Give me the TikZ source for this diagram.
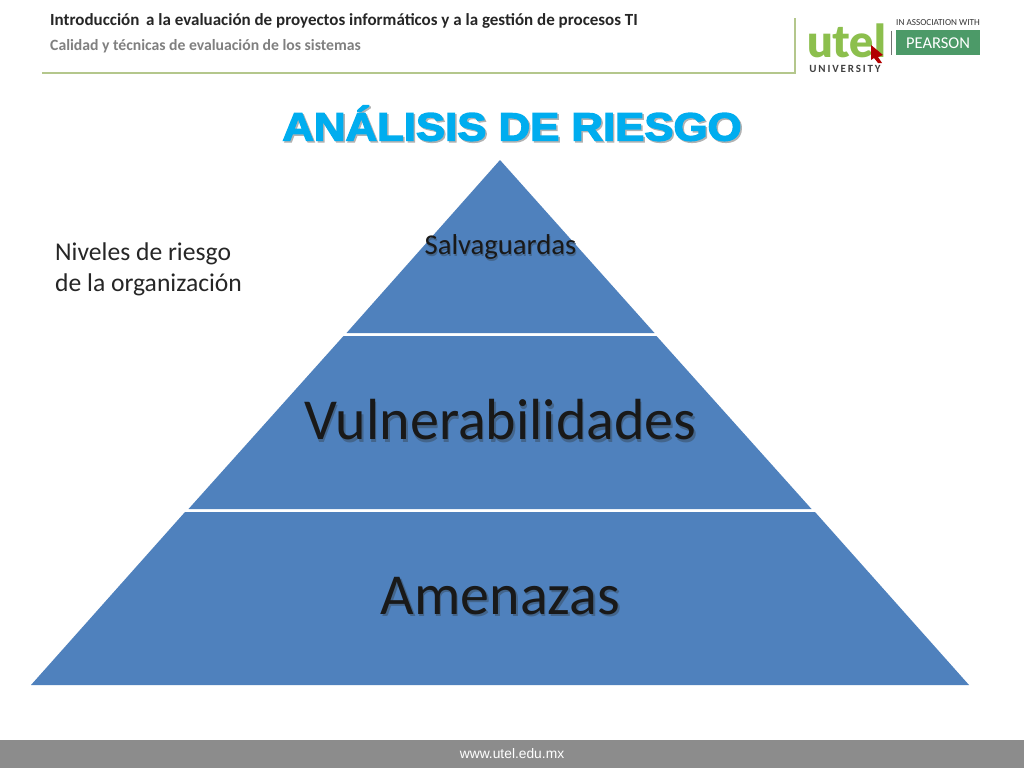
\documentclass[tikz,border=0pt]{standalone}
\usepackage{fontspec}
\setmainfont{Carlito}
\newfontfamily\titlefont[FakeBold=3.4,FakeStretch=1.11]{Liberation Sans Bold}
\newfontfamily\arialfont{Liberation Sans}
\newfontfamily\logofont{Lato Black}
\definecolor{pyr}{HTML}{4F81BD}
\definecolor{hdrline}{HTML}{B4C78C}
\definecolor{titleblue}{HTML}{00ADEF}
\definecolor{utelgreen}{HTML}{8CBF4D}
\definecolor{pearsongreen}{HTML}{4C9A68}
\definecolor{footgray}{HTML}{8C8C8C}
\definecolor{softshadow}{HTML}{43658C}
\newcommand{\shadowed}[4]{\makebox[0pt][l]{\kern#1pt\raisebox{-#2pt}{\color{#3}#4}}#4}
\tikzset{
  band/.style={fill=pyr,draw=none},
  lbl/.style={inner sep=0pt,anchor=center,text=black!90},
  plain/.style={inner sep=0pt,anchor=west},
}
\begin{document}
\begin{tikzpicture}[x=1pt,y=-1pt]
\useasboundingbox (0,0) rectangle (1024,768);
\fill[white] (0,0) rectangle (1024,768);
% header
\node[plain,font=\bfseries\fontsize{17}{18}\selectfont,text=black!85] (h1) at (50,21) {Introducción\, a la evaluación de proyectos informáticos y a la gestión de procesos TI};
\node[plain,font=\bfseries\fontsize{15.7}{18}\selectfont,text=black!50] (h2) at (50,46) {Calidad y técnicas de evaluación de los sistemas};
\draw[hdrline,line width=1.3pt] (42,73) -- (795,73) -- (795,18);
% logo
\node[inner sep=0pt,anchor=base,font=\logofont\fontsize{45}{47}\selectfont,text=utelgreen] (utel) at (846.5,57) {utel};
\node[inner sep=0pt,anchor=center,font=\bfseries\fontsize{11}{12}\selectfont,text=black!75] (univ) at (845,69) {U\,N\,I\,V\,E\,R\,S\,I\,T\,Y};
\fill[red!70!black] (871,45) -- (883,55) -- (878,57) -- (882,63) -- (878,63) -- (874,58) -- (871,60) -- cycle;
\draw[black!55,line width=0.8pt] (891,31) -- (891,55);
\node[inner sep=0pt,anchor=center,font=\fontsize{9.2}{10}\selectfont,text=black!80] (assoc) at (938,23) {IN ASSOCIATION WITH};
\node[fill=pearsongreen,minimum width=84pt,minimum height=25pt,inner sep=0pt,text=white,font=\fontsize{16.5}{17}\selectfont] (pearson) at (938,43) {PEARSON};
% title
\node[inner sep=0pt,font=\titlefont\fontsize{39.4}{42}\selectfont,text=titleblue] (title) at (512,124) {\shadowed{1.5}{1.5}{black!30}{ANÁLISIS DE RIESGO}};
% pyramid
\fill[band] (500,160) -- (654.5,333) -- (346.5,333) -- cycle;
\fill[band] (343.5,336) -- (656.5,336) -- (811.5,509) -- (188.5,509) -- cycle;
\fill[band] (185,512) -- (815,512) -- (969,685) -- (31,685) -- cycle;
\node[lbl,font=\fontsize{28.7}{30}\selectfont] (salv) at (500.5,248) {\shadowed{1}{1.5}{softshadow}{Salvaguardas}};
\node[lbl,font=\fontsize{58}{60}\selectfont] (vuln) at (500.5,421) {\shadowed{1.5}{2.5}{softshadow}{Vulnerabilidades}};
\node[lbl,font=\fontsize{58}{60}\selectfont] (amen) at (500.5,597) {\shadowed{1.5}{2.5}{softshadow}{Amenazas}};
\node[inner sep=0pt,anchor=north west,align=left,font=\fontsize{25.6}{31}\selectfont,text=black!85] (niv) at (55,243) {Niveles de riesgo\\de la organización};
% footer
\fill[footgray] (0,740) rectangle (1024,768);
\node[inner sep=0pt,font=\arialfont\fontsize{13.8}{15}\selectfont,text=white] (url) at (512,754) {www.utel.edu.mx};
\end{tikzpicture}
\end{document}
